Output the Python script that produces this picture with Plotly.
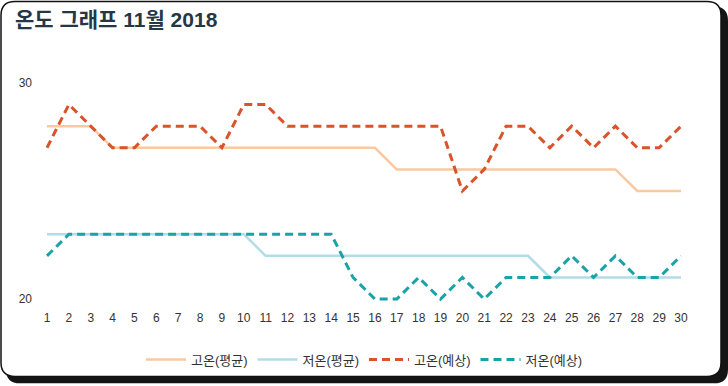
import plotly.graph_objects as go

days = list(range(1, 31))
high_avg = [28, 28, 28, 27, 27, 27, 27, 27, 27, 27, 27, 27, 27, 27, 27, 27,
            26, 26, 26, 26, 26, 26, 26, 26, 26, 26, 26, 25, 25, 25]
low_avg = [23, 23, 23, 23, 23, 23, 23, 23, 23, 23, 22, 22, 22, 22, 22, 22,
           22, 22, 22, 22, 22, 22, 22, 21, 21, 21, 21, 21, 21, 21]
high_fc = [27, 29, 28, 27, 27, 28, 28, 28, 27, 29, 29, 28, 28, 28, 28, 28,
           28, 28, 28, 25, 26, 28, 28, 27, 28, 27, 28, 27, 27, 28]
low_fc = [22, 23, 23, 23, 23, 23, 23, 23, 23, 23, 23, 23, 23, 23, 21, 20,
          20, 21, 20, 21, 20, 21, 21, 21, 22, 21, 22, 21, 21, 22]
names = ["고온(평균)", "저온(평균)", "고온(예상)", "저온(예상)"]
title_text = "온도 그래프 11월 2018"

W, H = 728, 386
ML, MR, MT, MB = 37, 37, 73, 75
PW, PH = W - ML - MR, H - MT - MB


def px(x):
    return (x - ML) / PW


def py(y):
    return (H - MB - y) / PH


def rrect(x0, y0, x1, y1, r):
    return (f"M {px(x0 + r)} {py(y0)} L {px(x1 - r)} {py(y0)} "
            f"Q {px(x1)} {py(y0)} {px(x1)} {py(y0 + r)} "
            f"L {px(x1)} {py(y1 - r)} Q {px(x1)} {py(y1)} {px(x1 - r)} {py(y1)} "
            f"L {px(x0 + r)} {py(y1)} Q {px(x0)} {py(y1)} {px(x0)} {py(y1 - r)} "
            f"L {px(x0)} {py(y0 + r)} Q {px(x0)} {py(y0)} {px(x0 + r)} {py(y0)} Z")


fig = go.Figure()
fig.add_trace(go.Scatter(x=days, y=high_avg, name=names[0], mode="lines",
                         line=dict(color="#f9c9a0", width=2.5)))
fig.add_trace(go.Scatter(x=days, y=low_avg, name=names[1], mode="lines",
                         line=dict(color="#b3dde6", width=2.5)))
fig.add_trace(go.Scatter(x=days, y=high_fc, name=names[2], mode="lines",
                         line=dict(color="#d9532b", width=3, dash="8px,5px")))
fig.add_trace(go.Scatter(x=days, y=low_fc, name=names[3], mode="lines",
                         line=dict(color="#1aa3a6", width=3, dash="8px,5px")))

xpad = 10 / 21.86
ypad = 10 / 21.8
fig.update_layout(
    width=W, height=H,
    margin=dict(l=ML, r=MR, t=MT, b=MB),
    paper_bgcolor="white", plot_bgcolor="rgba(0,0,0,0)",
    font=dict(family="Liberation Sans, Noto Sans CJK KR, sans-serif", color="#333", size=11),
    title=dict(text=f"<b>{title_text}</b>", xref="container", x=15 / W, xanchor="left",
               yref="container", y=1 - 20 / H, yanchor="middle",
               font=dict(size=21, color="#253746",
                         family="Liberation Sans, Noto Sans CJK KR, sans-serif")),
    showlegend=True,
    legend=dict(orientation="h", x=0.5, xanchor="center", y=py(362), yanchor="middle",
                font=dict(size=13, color="#333"), bgcolor="rgba(0,0,0,0)",
                itemwidth=40),
    xaxis=dict(range=[1 - xpad, 30 + xpad], tickmode="array", tickvals=days,
               ticktext=[str(d) for d in days], showgrid=False, zeroline=False,
               showline=False, ticks="", tickfont=dict(size=12, color="#333")),
    yaxis=dict(range=[20 - ypad, 30 + ypad], tickmode="array", tickvals=[20, 30],
               ticktext=["20", "30"], showgrid=False, zeroline=False, showline=False,
               ticks="", ticklabelstandoff=4, tickfont=dict(size=12, color="#333")),
    shapes=[
        dict(type="path", xref="paper", yref="paper", path=rrect(6, 6, 728, 386, 14),
             fillcolor="#141414", line=dict(width=0), layer="below"),
        dict(type="path", xref="paper", yref="paper", path=rrect(1, 1, 721, 379, 14),
             fillcolor="white", line=dict(color="#111", width=1.5), layer="below"),
    ],
)

fig.write_html("out.html", config={"displayModeBar": False},
               post_script="document.body.style.margin='0px';")
